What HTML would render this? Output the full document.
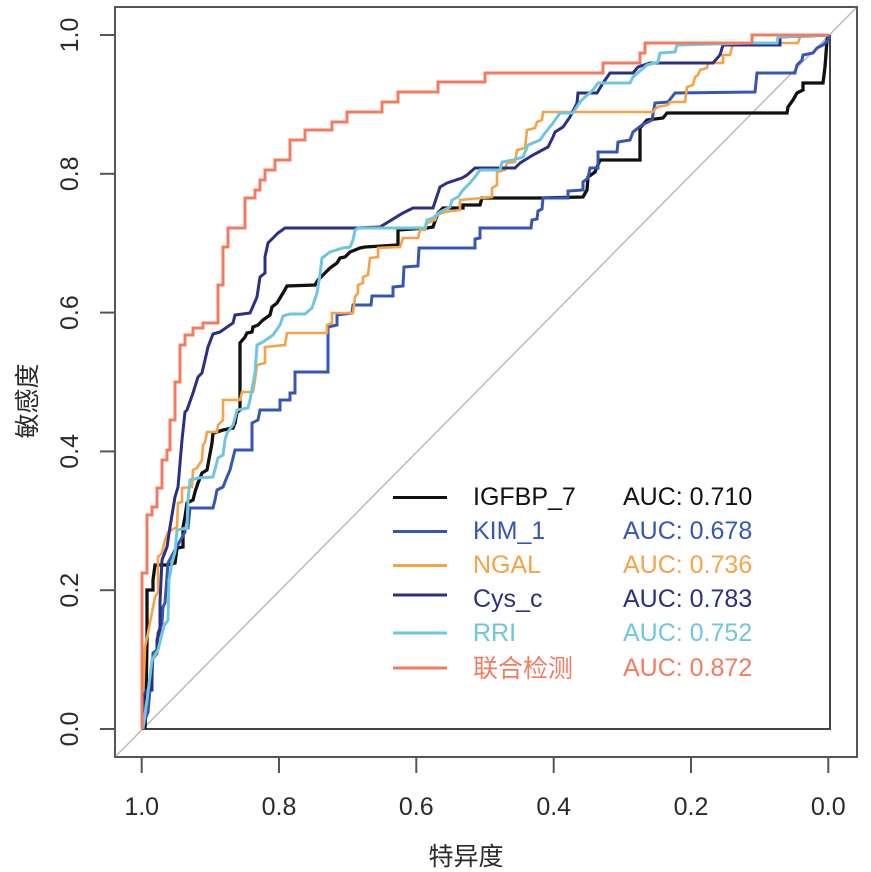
<!DOCTYPE html>
<html><head><meta charset="utf-8"><style>
html,body{margin:0;padding:0;background:#fff;}
svg{display:block;}
text{font-family:"Liberation Sans","Noto Sans CJK SC",sans-serif;}
</style></head><body>
<svg width="871" height="872" viewBox="0 0 871 872" xmlns="http://www.w3.org/2000/svg">
<rect x="0" y="0" width="871" height="872" fill="#fff"/>
<!-- outer box -->
<rect x="115" y="7" width="742" height="750" fill="none" stroke="#555" stroke-width="2"/>
<!-- diagonal -->
<line x1="116" y1="756" x2="856" y2="8" stroke="#bbb" stroke-width="1.5"/>
<!-- inner frame -->
<polyline points="142,729 830,729 830,35" fill="none" stroke="#444" stroke-width="2"/>
<!-- ticks -->
<g stroke="#555" stroke-width="2">
<line x1="141.7" y1="757" x2="141.7" y2="773"/>
<line x1="279" y1="757" x2="279" y2="773"/>
<line x1="416.3" y1="757" x2="416.3" y2="773"/>
<line x1="553.7" y1="757" x2="553.7" y2="773"/>
<line x1="691" y1="757" x2="691" y2="773"/>
<line x1="828.3" y1="757" x2="828.3" y2="773"/>
<line x1="100" y1="729" x2="115" y2="729"/>
<line x1="100" y1="590.2" x2="115" y2="590.2"/>
<line x1="100" y1="451.4" x2="115" y2="451.4"/>
<line x1="100" y1="312.6" x2="115" y2="312.6"/>
<line x1="100" y1="173.8" x2="115" y2="173.8"/>
<line x1="100" y1="35" x2="115" y2="35"/>
</g>
<g font-size="25" fill="#2a2a2a" text-anchor="middle">
<text x="141.7" y="815">1.0</text>
<text x="279" y="815">0.8</text>
<text x="416.3" y="815">0.6</text>
<text x="553.7" y="815">0.4</text>
<text x="691" y="815">0.2</text>
<text x="828.3" y="815">0.0</text>
<text transform="translate(78,729) rotate(-90)">0.0</text>
<text transform="translate(78,590.2) rotate(-90)">0.2</text>
<text transform="translate(78,451.4) rotate(-90)">0.4</text>
<text transform="translate(78,312.6) rotate(-90)">0.6</text>
<text transform="translate(78,173.8) rotate(-90)">0.8</text>
<text transform="translate(78,35) rotate(-90)">1.0</text>
<text x="466" y="865">特异度</text>
<text transform="translate(36,401) rotate(-90)">敏感度</text>
</g>
<g fill="none" stroke-linejoin="miter">
<!-- IGFBP_7 -->
<polyline stroke="#111" stroke-width="3.3" points="145,729 146,700 147,640 147,590 153,590 153,580 155,565 167,565 175,563 177,548 183,547 183,527 185,517 187,503 193,500 195,492 198,483 202,473 207,470 212,443 213,433 217,432 223,430 233,428 235,423 237,412 240,410 240,343 245,337 247,333 252,332 253,327 258,325 263,320 270,315 272,307 277,303 280,298 283,293 287,286 315,285 318,280 323,275 330,268 337,263 340,258 345,257 350,252 360,248 365,247 398,245 398,230 427,228 433,227 435,221 438,213 443,208 463,208 463,205 480,205 482,198 540,198 583,197 587,190 588,177 595,172 600,160 640,160 640,128 647,120 663,118 667,113 787,113 788,107 793,100 797,93 803,90 803,83 823,83 825,67 827,40 829,35"/>
<!-- KIM_1 -->
<polyline stroke="#3556b5" stroke-width="3" points="142,729 145,720 148,712 150,690 152,677 153,653 157,650 158,633 162,623 163,607 165,603 168,563 175,550 185,532 185,528 188,528 190,508 213,508 215,500 217,490 223,487 227,477 230,470 233,458 235,450 252,450 252,423 258,420 260,410 280,410 280,400 290,400 290,393 295,393 295,372 328,372 328,327 337,325 337,315 352,313 353,305 371,305 372,296 393,296 393,287 403,286 404,267 418,266 419,248 475,248 475,239 480,238 480,228 531,228 532,220 537,219 538,211 542,209 543,198 568,198 568,191 583,190 583,182 588,178 590,168 598,168 598,152 617,152 618,142 630,140 633,132 638,128 642,125 652,120 655,103 668,102 675,93 755,92 757,73 795,73 797,65 802,60 803,55 813,53 817,48 823,45 828,40 830,35"/>
<!-- NGAL -->
<polyline stroke="#f6a348" stroke-width="2.6" points="142,729 145,647 148,633 155,597 158,592 158,557 162,553 165,540 168,532 177,527 178,503 182,502 182,488 192,487 193,470 197,468 202,460 203,445 205,442 207,432 217,432 218,425 223,420 223,400 240,400 242,392 253,392 255,380 257,365 265,363 265,347 285,345 287,333 327,333 327,325 332,323 332,313 353,313 355,297 358,293 358,285 363,283 363,277 368,275 370,258 378,257 378,248 400,247 403,238 418,238 420,230 425,230 427,223 435,220 437,215 445,212 460,210 460,200 482,198 492,197 492,188 497,185 497,172 505,170 507,163 515,162 517,150 525,148 527,130 535,128 537,122 542,120 543,112 653,112 657,107 668,105 670,102 685,102 687,87 693,85 695,77 698,75 700,70 707,68 708,63 723,63 723,55 730,55 732,47 733,43 798,43 800,37 829,35"/>
<!-- Cys_c -->
<polyline stroke="#2c2f86" stroke-width="3" points="142,729 143,697 147,690 152,690 152,660 157,653 157,640 160,630 160,602 162,560 167,547 170,527 175,497 178,487 182,440 185,412 187,410 193,393 198,377 202,373 208,347 213,334 220,332 233,323 235,315 250,313 257,297 260,277 265,273 265,257 268,243 273,238 278,233 285,228 355,228 380,227 403,213 413,208 433,208 440,187 447,183 462,178 467,175 475,168 515,168 520,163 533,155 548,147 553,137 555,132 563,127 570,117 577,103 578,93 597,93 603,83 610,73 633,73 638,67 650,63 713,63 720,55 723,45 780,45 780,37 829,35"/>
<!-- RRI -->
<polyline stroke="#6fc6df" stroke-width="3" points="143,729 147,700 152,660 158,650 164,626 168,620 169,580 172,563 175,552 177,530 187,528 188,500 190,480 198,478 213,477 218,458 223,455 225,440 227,433 233,425 235,418 237,410 248,408 250,400 255,373 257,345 263,342 273,335 280,325 283,316 290,314 305,314 312,308 317,293 320,275 322,258 330,252 343,248 350,247 353,240 355,230 358,228 425,228 427,220 433,218 440,212 450,207 452,200 458,197 463,190 470,183 475,177 480,170 500,170 502,162 513,160 523,157 528,145 533,143 540,140 545,133 553,123 560,113 573,113 580,102 585,97 593,90 598,83 630,83 633,77 647,65 658,62 660,53 675,52 677,45 752,43 777,43 778,37 829,35"/>
<!-- 联合检测 -->
<polyline stroke="#f47b5f" stroke-width="3" points="142,729 142,573 147,573 147,515 152,515 152,507 157,507 157,488 162,488 162,460 167,460 167,450 170,450 170,420 175,420 175,382 180,382 180,345 185,345 185,335 193,335 193,328 203,328 203,323 218,323 218,285 223,285 223,247 228,247 228,228 245,228 245,198 255,198 255,190 260,190 260,180 265,180 265,170 275,170 275,160 290,160 290,140 305,140 305,130 332,130 332,122 347,122 347,112 382,112 382,102 398,102 398,92 438,92 438,82 485,82 485,73 603,73 603,63 640,63 640,53 645,53 645,43 752,43 752,35 829,35"/>
</g>
<!-- legend -->
<g stroke-width="3">
<line x1="393" y1="497.5" x2="447" y2="497.5" stroke="#111"/>
<line x1="393" y1="531.5" x2="447" y2="531.5" stroke="#3556b5"/>
<line x1="393" y1="565.5" x2="447" y2="565.5" stroke="#f6a348"/>
<line x1="393" y1="595" x2="447" y2="595" stroke="#2c2f86"/>
<line x1="393" y1="633" x2="447" y2="633" stroke="#6fc6df"/>
<line x1="393" y1="668" x2="447" y2="668" stroke="#f47b5f"/>
</g>
<g font-size="25">
<text x="473" y="505" fill="#111">IGFBP_7</text>
<text x="473" y="539" fill="#3556b5">KIM_1</text>
<text x="473" y="573" fill="#f6a348">NGAL</text>
<text x="473" y="607" fill="#2c2f86">Cys_c</text>
<text x="473" y="641" fill="#6fc6df">RRI</text>
<text x="473" y="677" fill="#f47b5f">联合检测</text>
<text x="623" y="505" fill="#111">AUC: 0.710</text>
<text x="623" y="539" fill="#3556b5">AUC: 0.678</text>
<text x="623" y="573" fill="#f6a348">AUC: 0.736</text>
<text x="623" y="607" fill="#2c2f86">AUC: 0.783</text>
<text x="623" y="641" fill="#6fc6df">AUC: 0.752</text>
<text x="623" y="676" fill="#f47b5f">AUC: 0.872</text>
</g>
</svg>
</body></html>
